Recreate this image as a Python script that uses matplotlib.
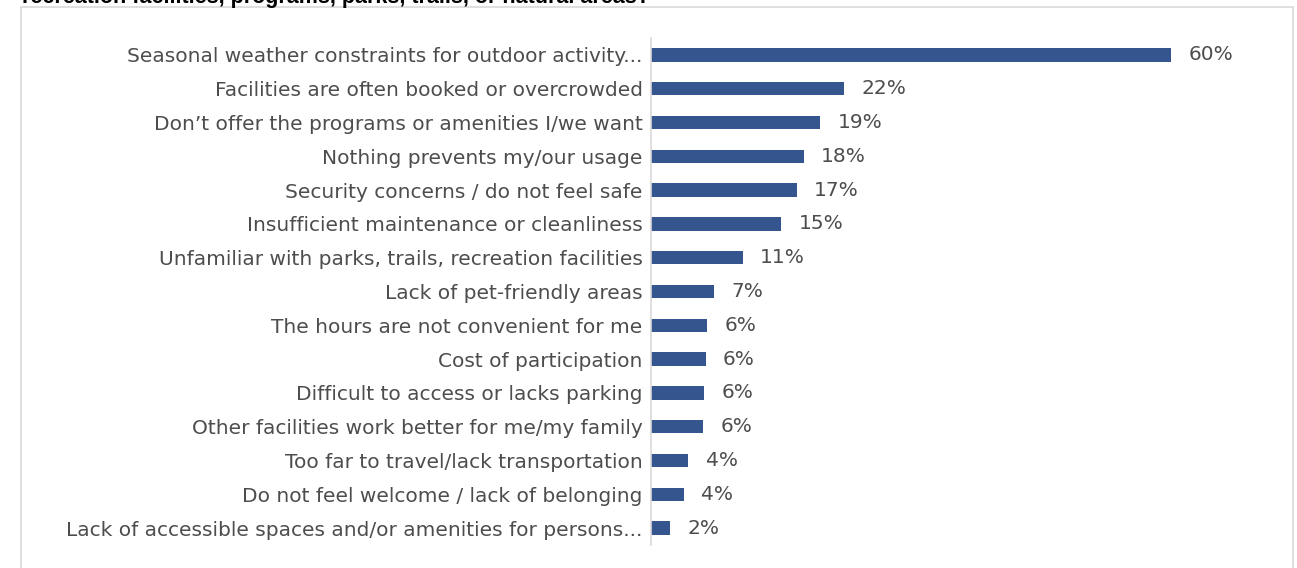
import matplotlib
matplotlib.use("Agg")
from matplotlib import pyplot as plt
from matplotlib.patches import Rectangle

plt.rcParams['font.family'] = ['DejaVu Sans']

categories = [
    "Seasonal weather constraints for outdoor activity...",
    "Facilities are often booked or overcrowded",
    "Don\u2019t offer the programs or amenities I/we want",
    "Nothing prevents my/our usage",
    "Security concerns / do not feel safe",
    "Insufficient maintenance or cleanliness",
    "Unfamiliar with parks, trails, recreation facilities",
    "Lack of pet-friendly areas",
    "The hours are not convenient for me",
    "Cost of participation",
    "Difficult to access or lacks parking",
    "Other facilities work better for me/my family",
    "Too far to travel/lack transportation",
    "Do not feel welcome / lack of belonging",
    "Lack of accessible spaces and/or amenities for persons...",
]
values = [60.0, 22.3, 19.5, 17.6, 16.8, 15.0, 10.6, 7.3, 6.5, 6.3, 6.1, 6.0, 4.3, 3.8, 2.2]
labels = ["60%", "22%", "19%", "18%", "17%", "15%", "11%", "7%",
          "6%", "6%", "6%", "6%", "4%", "4%", "2%"]

title = "recreation facilities, programs, parks, trails, or natural areas?"

W, H = 1297, 568
fig = plt.figure(figsize=(W / 100, H / 100), dpi=100)

# chart border box
fig.patches.append(Rectangle((21 / W, -0.1), (1293 - 21) / W, 1.1 - 7 / H,
                             transform=fig.transFigure, fill=False,
                             edgecolor="#d9d9d9", linewidth=1.2))

fig.text(22 / W, 1 - 3 / H, title, fontsize=15.5, fontweight="bold",
         family="Liberation Sans", color="black", ha="left", va="baseline")

ax_left, ax_right = 651, 1250
ax_top, ax_bot = 38, 545
ax = fig.add_axes([ax_left / W, 1 - ax_bot / H, (ax_right - ax_left) / W,
                   (ax_bot - ax_top) / H])

y = list(range(len(categories)))
ax.barh(y, values, height=0.4, color="#35558f")
ax.set_ylim(len(categories) - 0.5, -0.5)
ax.set_xlim(0, 60 * (ax_right - ax_left) / (1171 - ax_left))

for yi, v, lab in zip(y, values, labels):
    ax.text(v + 2.0, yi, lab, va="center", ha="left", fontsize=14.5,
            color="#4d4d4d")

ax.set_yticks(y)
ax.set_yticklabels(categories, fontsize=14.5, color="#4d4d4d")
ax.tick_params(axis="y", length=0, pad=6)
ax.set_xticks([])
for s in ["top", "right", "bottom"]:
    ax.spines[s].set_visible(False)
ax.spines["left"].set_color("#d9d9d9")
ax.spines["left"].set_linewidth(1.2)

fig.savefig("out.png", dpi=100)
